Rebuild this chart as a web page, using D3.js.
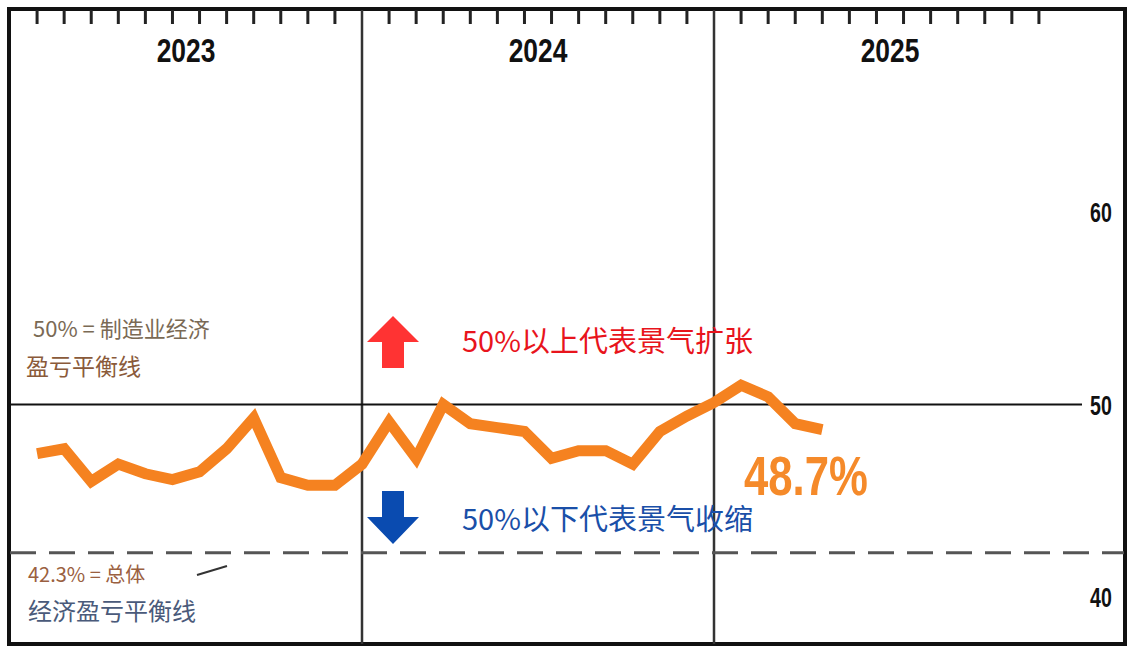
<!DOCTYPE html>
<html>
<head>
<meta charset="utf-8">
<script src="https://cdn.jsdelivr.net/npm/d3@7"></script>
<style>
  body { margin: 0; background: #fff; }
  text { font-family: "Noto Sans CJK SC", "Noto Sans", sans-serif; }
  .cond { font-family: "Liberation Sans", Arial, sans-serif; font-weight: bold; }
</style>
</head>
<body>
<svg id="chart" width="1135" height="650"></svg>
<script>
  // month slots: slot 0 = left edge, year boundaries at 13 and 26
  var years = ['2023', '2024', '2025'];
  var yearStart = [0, 13, 26];
  var yTicks = [60, 50, 40];
  var pmi = [47.45, 47.7, 46.0, 46.9, 46.4, 46.1, 46.5, 47.7, 49.3, 46.2, 45.8, 45.8,
             46.9, 49.1, 47.2, 50.0, 49.0, 48.8, 48.6, 47.2, 47.6, 47.6, 46.9, 48.6,
             49.4, 50.1, 51.0, 50.4, 49.0, 48.7];
  var breakEven = 50, overallBreakEven = 42.3;

  var svg = d3.select('#chart');
  var x = d3.scaleLinear().domain([0, 13]).range([10, 362]);
  var y = d3.scaleLinear().domain([40, 60]).range([597, 212]);

  // frame
  svg.append('rect').attr('x', 9).attr('y', 9).attr('width', 1116).attr('height', 635)
    .attr('fill', 'none').attr('stroke', '#111').attr('stroke-width', 4);

  // month ticks along top
  var ticks = [];
  yearStart.forEach(function(s) { for (var m = 1; m <= 12; m++) ticks.push(s + m); });
  svg.selectAll('.mt').data(ticks).enter().append('line')
    .attr('x1', function(d) { return x(d); }).attr('x2', function(d) { return x(d); })
    .attr('y1', 10).attr('y2', 24).attr('stroke', '#222').attr('stroke-width', 3);

  // year separators
  svg.selectAll('.ys').data(yearStart.slice(1)).enter().append('line')
    .attr('x1', function(d) { return x(d); }).attr('x2', function(d) { return x(d); })
    .attr('y1', 10).attr('y2', 644).attr('stroke', '#333').attr('stroke-width', 2.5);

  svg.selectAll('.yl').data(years).enter().append('text')
    .attr('class', 'cond')
    .attr('transform', function(d, i) { return 'translate(' + x(yearStart[i] + 6.5) + ',62) scale(0.8,1)'; })
    .attr('text-anchor', 'middle').attr('font-size', 33).attr('fill', '#111')
    .text(function(d) { return d; });

  // reference lines
  svg.append('line').attr('x1', 10).attr('x2', 1082).attr('y1', y(breakEven)).attr('y2', y(breakEven))
    .attr('stroke', '#111').attr('stroke-width', 2);
  svg.append('line').attr('x1', 10).attr('x2', 1124).attr('y1', y(overallBreakEven)).attr('y2', y(overallBreakEven))
    .attr('stroke', '#555').attr('stroke-width', 3).attr('stroke-dasharray', '26,13');

  // right axis labels
  svg.selectAll('.ya').data(yTicks).enter().append('text')
    .attr('class', 'cond')
    .attr('transform', function(d) { return 'translate(1101,' + (y(d) + 10) + ') scale(0.7,1)'; })
    .attr('text-anchor', 'middle').attr('font-size', 28).attr('fill', '#111')
    .text(function(d) { return d; });

  // annotations
  var ann = [
    { t: '50% = 制造业经济', x: 33, y: 337, s: 22, c: '#7a6a55' },
    { t: '盈亏平衡线', x: 26, y: 375, s: 23, c: '#8a5a3a' },
    { t: '42.3% = 总体', x: 28, y: 582, s: 20, c: '#9a6040' },
    { t: '经济盈亏平衡线', x: 28, y: 620, s: 24, c: '#4a5a7a' },
    { t: '50%以上代表景气扩张', x: 462, y: 352, s: 29, c: '#e8141c' },
    { t: '50%以下代表景气收缩', x: 462, y: 530, s: 29, c: '#1a4fa8' }
  ];
  svg.selectAll('.ann').data(ann).enter().append('text')
    .attr('x', function(d) { return d.x; }).attr('y', function(d) { return d.y; })
    .attr('font-size', function(d) { return d.s; }).attr('fill', function(d) { return d.c; })
    .text(function(d) { return d.t; });
  svg.append('line').attr('x1', 197).attr('y1', 575).attr('x2', 227).attr('y2', 566)
    .attr('stroke', '#333').attr('stroke-width', 2);

  // arrows
  svg.append('path').attr('d', 'M393,316 L419,342 L404,342 L404,368 L382,368 L382,342 L367,342 Z').attr('fill', '#ff3333');
  svg.append('path').attr('d', 'M382,491 L404,491 L404,517 L419,517 L393,544 L367,517 L382,517 Z').attr('fill', '#0a4bb0');

  // PMI line
  var line = d3.line().x(function(d, i) { return x(i + 1); }).y(function(d) { return y(d); });
  svg.append('path').datum(pmi).attr('d', line).attr('fill', 'none')
    .attr('stroke', '#f58220').attr('stroke-width', 11).attr('stroke-linejoin', 'miter');

  svg.append('text').attr('class', 'cond')
    .attr('transform', 'translate(744,495) scale(0.78,1)')
    .attr('font-size', 56).attr('fill', '#f58a2a')
    .text(pmi[pmi.length - 1] + '%');
</script>
</body>
</html>
